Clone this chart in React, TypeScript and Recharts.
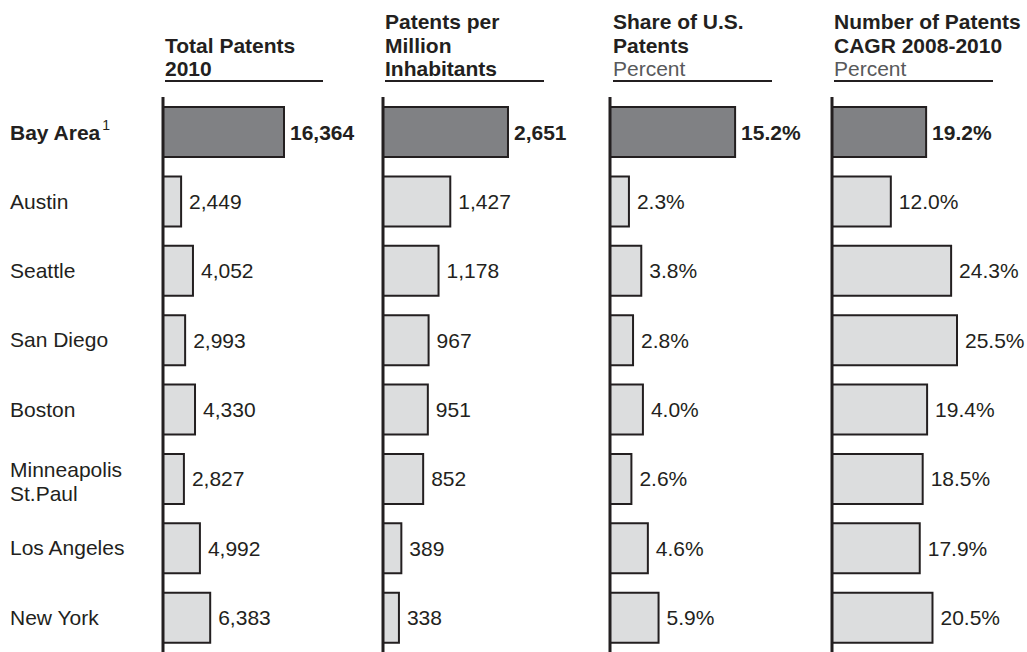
import React from 'react';
import { BarChart, Bar, XAxis, YAxis, Cell, LabelList } from 'recharts';

// 데이터
const cities = [
  'Bay Area',
  'Austin',
  'Seattle',
  'San Diego',
  'Boston',
  'Minneapolis\nSt.Paul',
  'Los Angeles',
  'New York',
];
const totalPatents = [16364, 2449, 4052, 2993, 4330, 2827, 4992, 6383];
const perMillion = [2651, 1427, 1178, 967, 951, 852, 389, 338];
const usShare = [15.2, 2.3, 3.8, 2.8, 4.0, 2.6, 4.6, 5.9];
const cagr = [19.2, 12.0, 24.3, 25.5, 19.4, 18.5, 17.9, 20.5];

const rows = cities.map((city, i) => ({
  city,
  total: totalPatents[i],
  perMillion: perMillion[i],
  share: usShare[i],
  cagr: cagr[i],
}));

const FONT = '"Liberation Sans", Arial, Helvetica, sans-serif';
const INK = '#231f20';
const DARK = '#808184';
const LIGHT = '#dcddde';
const FS = 21;

const fmtNum = (v: number) => v.toLocaleString('en-US');
const fmtPct = (v: number) => `${v.toFixed(1)}%`;

const CityTick = (props: any) => {
  const { y, payload } = props;
  const lines: string[] = String(payload.value).split('\n');
  const bold = payload.index === 0 || payload.value === cities[0];
  if (bold) {
    return (
      <text x={10} y={y} dominantBaseline="central" fontFamily={FONT} fontSize={FS} fill={INK}>
        <tspan fontWeight="bold">{lines[0]}</tspan>
        <tspan fontSize={14} dx={2} dy={-7}>1</tspan>
      </text>
    );
  }
  if (lines.length > 1) {
    return (
      <g>
        {lines.map((l, i) => (
          <text key={i} x={10} y={y - 9 + i * 24} dominantBaseline="central" fontFamily={FONT} fontSize={FS} fill={INK}>
            {l}
          </text>
        ))}
      </g>
    );
  }
  return (
    <text x={10} y={y} dominantBaseline="central" fontFamily={FONT} fontSize={FS} fill={INK}>
      {lines[0]}
    </text>
  );
};

interface PanelProps {
  left: number;
  axisWidth: number;
  dataKey: string;
  domainMax: number;
  first: number;
  format: (v: number) => string;
  showCities?: boolean;
}

const PLOT_W = 200;

const Panel: React.FC<PanelProps> = ({ left, axisWidth, dataKey, domainMax, first, format, showCities }) => {
  const renderLabel = (p: any) => {
    const { x, y, width, height, value, index } = p;
    const bold = index === 0 || (index === undefined && value === first);
    return (
      <text
        x={x + width + (bold ? 6 : 8)}
        y={y + height / 2}
        dominantBaseline="central"
        fontFamily={FONT}
        fontSize={FS}
        fontWeight={bold ? 'bold' : 'normal'}
        fill={INK}
      >
        {format(value)}
      </text>
    );
  };
  return (
    <div style={{ position: 'absolute', left: left - axisWidth, top: 0 }}>
      <BarChart
        layout="vertical"
        width={axisWidth + PLOT_W + 100}
        height={652}
        data={rows}
        margin={{ top: 97, right: 100, bottom: 0, left: 0 }}
        barSize={50}
      >
        <XAxis type="number" domain={[0, domainMax]} hide />
        <YAxis
          type="category"
          dataKey="city"
          width={axisWidth}
          axisLine={{ stroke: INK, strokeWidth: 3 }}
          tickLine={false}
          tick={showCities ? <CityTick /> : false}
          interval={0}
        />
        <Bar dataKey={dataKey} stroke={INK} strokeWidth={2} isAnimationActive={false}>
          {rows.map((_, i) => (
            <Cell key={`c-${i}`} fill={i === 0 ? DARK : LIGHT} />
          ))}
          <LabelList dataKey={dataKey} content={renderLabel} />
        </Bar>
      </BarChart>
    </div>
  );
};

const headers = [
  { x: 165, x2: 323, bold: ['Total Patents', '2010'], sub: '' },
  { x: 385, x2: 544, bold: ['Patents per', 'Million', 'Inhabitants'], sub: '' },
  { x: 613, x2: 772, bold: ['Share of U.S.', 'Patents'], sub: 'Percent' },
  { x: 834, x2: 993, bold: ['Number of Patents', 'CAGR 2008-2010'], sub: 'Percent' },
];

const Headers = () => (
  <svg width={1027} height={95} style={{ position: 'absolute', left: 0, top: 0 }}>
    {headers.map((h, i) => {
      const lines = [...h.bold.map((t) => ({ t, b: true })), ...(h.sub ? [{ t: h.sub, b: false }] : [])];
      const baseY = 76 - (lines.length - 1) * 23.5;
      return (
        <g key={i}>
          {lines.map((l, j) => (
            <text
              key={j}
              x={h.x}
              y={baseY + j * 23.5}
              fontFamily={FONT}
              fontSize={FS}
              fontWeight={l.b ? 'bold' : 'normal'}
              fill={l.b ? INK : '#58595b'}
            >
              {l.t}
            </text>
          ))}
          <line x1={h.x} x2={h.x2} y1={81} y2={81} stroke={INK} strokeWidth={2} />
        </g>
      );
    })}
  </svg>
);

const App: React.FC = () => {
  return (
    <div
      style={{
        position: 'absolute',
        left: 0,
        top: 0,
        width: 1027,
        height: 652,
        background: '#fff',
        overflow: 'hidden',
      }}
    >
      <Panel left={163} axisWidth={163} dataKey="total" domainMax={27048} first={totalPatents[0]} format={fmtNum} showCities />
      <Panel left={383} axisWidth={40} dataKey="perMillion" domainMax={4242} first={perMillion[0]} format={fmtNum} />
      <Panel left={610} axisWidth={40} dataKey="share" domainMax={24.3} first={usShare[0]} format={fmtPct} />
      <Panel left={832} axisWidth={40} dataKey="cagr" domainMax={40.8} first={cagr[0]} format={fmtPct} />
      <Headers />
    </div>
  );
};

export default App;
